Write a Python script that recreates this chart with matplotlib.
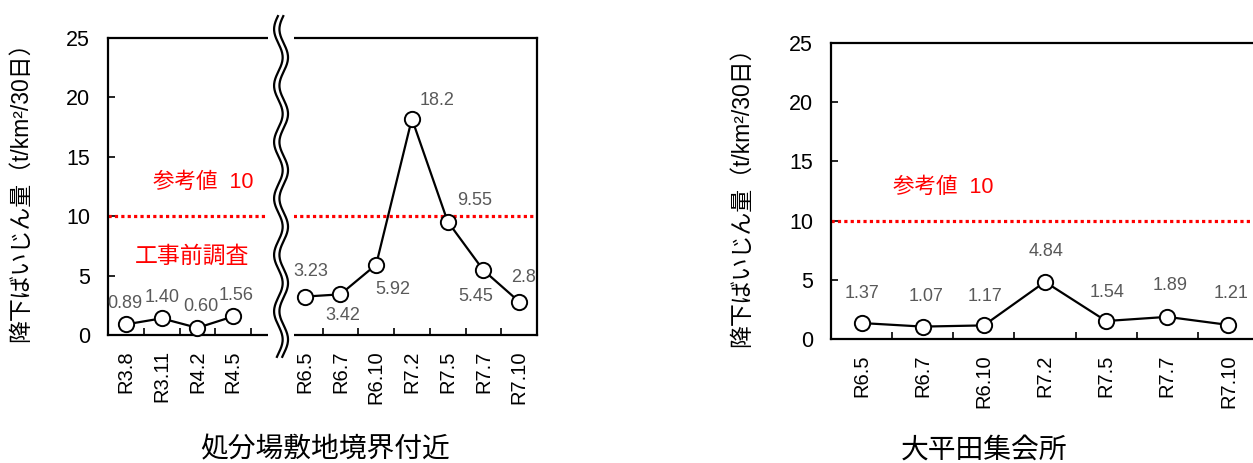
#! /usr/bin/env python3
# Dust fall (降下ばいじん量) at two sites, with reference line at 10

import numpy as np
import matplotlib
matplotlib.use("Agg")
import matplotlib.pyplot as plt
from matplotlib.transforms import blended_transform_factory

plt.rcParams['font.family'] = ['Liberation Sans', 'Noto Sans CJK JP']

# ---- data ----
site1_name = "処分場敷地境界付近"
site1_before_labels = ["R3.8", "R3.11", "R4.2", "R4.5"]
site1_before_values = [0.89, 1.40, 0.60, 1.56]
site1_before_text = ["0.89", "1.40", "0.60", "1.56"]
site1_after_labels = ["R6.5", "R6.7", "R6.10", "R7.2", "R7.5", "R7.7", "R7.10"]
site1_after_values = [3.23, 3.42, 5.92, 18.2, 9.55, 5.45, 2.8]
site1_after_text = ["3.23", "3.42", "5.92", "18.2", "9.55", "5.45", "2.8"]

site2_name = "大平田集会所"
site2_labels = ["R6.5", "R6.7", "R6.10", "R7.2", "R7.5", "R7.7", "R7.10"]
site2_values = [1.37, 1.07, 1.17, 4.84, 1.54, 1.89, 1.21]
site2_text = ["1.37", "1.07", "1.17", "4.84", "1.54", "1.89", "1.21"]

reference_value = 10
reference_text = "参考値  10"
before_text = "工事前調査"
ylabel = "降下ばいじん量（t/km²/30日）"
yticks = [0, 5, 10, 15, 20, 25]

# ---- label offsets (pixels) ----
off_before = [(-1, 21), (0, 21), (3, 21), (3, 21)]
off_after = [(6, 25), (2, -21), (17, -25), (25, 18), (27, 21), (-8, -26), (4, 24)]
off_site2 = [(0, 30), (3, 30), (1, 29), (1, 30), (1, 29), (3, 31), (3, 31)]

GRAY = "#595959"
RED = "#ff0000"
line_kw = dict(color="black", lw=1.6, marker="o", ms=11, mfc="white",
               mec="black", mew=1.4, clip_on=False, zorder=4)


def style_axes(ax, n):
    ax.set_xlim(-0.5, n - 0.5)
    ax.set_ylim(0, 25)
    ax.set_yticks(yticks)
    ax.tick_params(axis="y", direction="in", length=5, width=1.2,
                   labelsize=15.5, pad=13)
    ax.tick_params(axis="x", which="major", length=0, labelsize=14.5,
                   labelrotation=90, pad=11)
    ax.set_xticks(np.arange(n - 1) + 0.5, minor=True)
    ax.tick_params(axis="x", which="minor", direction="in", length=5,
                   width=1.2)
    for s in ax.spines.values():
        s.set_linewidth(1.6)
    ax.axhline(reference_value, color=RED, lw=2.3, ls=(0, (1, 1)),
               dash_capstyle="butt", zorder=2)
    ax.set_ylabel(ylabel, fontsize=16.5)


def put_labels(ax, xs, vals, texts, offs):
    for x, v, t, o in zip(xs, vals, texts, offs):
        ax.annotate(t, (x, v), xytext=o, textcoords="offset pixels",
                    ha="center", va="center", fontsize=13, color=GRAY,
                    zorder=5)


def main():
    fig = plt.figure(figsize=(12.53, 4.63), dpi=100)

    # ---- left: site 1, broken category axis ----
    n_before = len(site1_before_labels)
    gap = n_before
    n1 = n_before + 1 + len(site1_after_labels)
    ax1 = fig.add_axes([0.0862, 0.2765, 0.3424, 0.6415])
    style_axes(ax1, n1)
    x_before = np.arange(n_before)
    x_after = np.arange(gap + 1, n1)
    ax1.set_xticks(np.arange(n1))
    ax1.set_xticklabels(site1_before_labels + [""] + site1_after_labels)
    ax1.plot(x_before, site1_before_values, **line_kw)
    ax1.plot(x_after, site1_after_values, **line_kw)
    put_labels(ax1, x_before, site1_before_values, site1_before_text, off_before)
    put_labels(ax1, x_after, site1_after_values, site1_after_text, off_after)
    ax1.text(2.17, 12.8, reference_text, color=RED, fontsize=15.5,
             ha="center", va="center")
    ax1.text(1.84, 6.6, before_text, color=RED, fontsize=16.5,
             ha="center", va="center")
    ax1.yaxis.set_label_coords(-0.177, 0.5)

    # break mark: white band with a double wavy line
    tr = blended_transform_factory(ax1.transData, ax1.transAxes)
    ax1.fill_between([gap - 0.03, gap + 0.7], -0.01, 1.01, color="white",
                     transform=tr, zorder=6, clip_on=False, lw=0)
    yy = np.linspace(-0.077, 1.077, 400)
    wave = gap + 0.34 + 0.12 * np.sin(2 * np.pi * (yy - 1.077) / 0.19)
    ax1.fill_betweenx(yy, wave - 0.075, wave + 0.075, color="white",
                      transform=tr, zorder=7, clip_on=False, lw=0)
    for side in (-0.075, 0.075):
        ax1.plot(wave + side, yy, color="black", lw=1.6, transform=tr,
                 zorder=8, clip_on=False, solid_capstyle="butt")

    # ---- right: site 2 ----
    n2 = len(site2_labels)
    ax2 = fig.add_axes([0.6632, 0.2672, 0.3416, 0.6406])
    style_axes(ax2, n2)
    x2 = np.arange(n2)
    ax2.set_xticks(x2)
    ax2.set_xticklabels(site2_labels)
    ax2.plot(x2, site2_values, **line_kw)
    put_labels(ax2, x2, site2_values, site2_text, off_site2)
    ax2.text(1.34, 12.8, reference_text, color=RED, fontsize=15.5,
             ha="center", va="center")
    ax2.yaxis.set_label_coords(-0.182, 0.5)

    fig.text(325 / 1253, 0.027, site1_name, fontsize=20, ha="center",
             va="center")
    fig.text(984 / 1253, 0.027, site2_name, fontsize=20, ha="center",
             va="center")

    fig.savefig("out.png", dpi=100)


if __name__ == "__main__":
    main()
